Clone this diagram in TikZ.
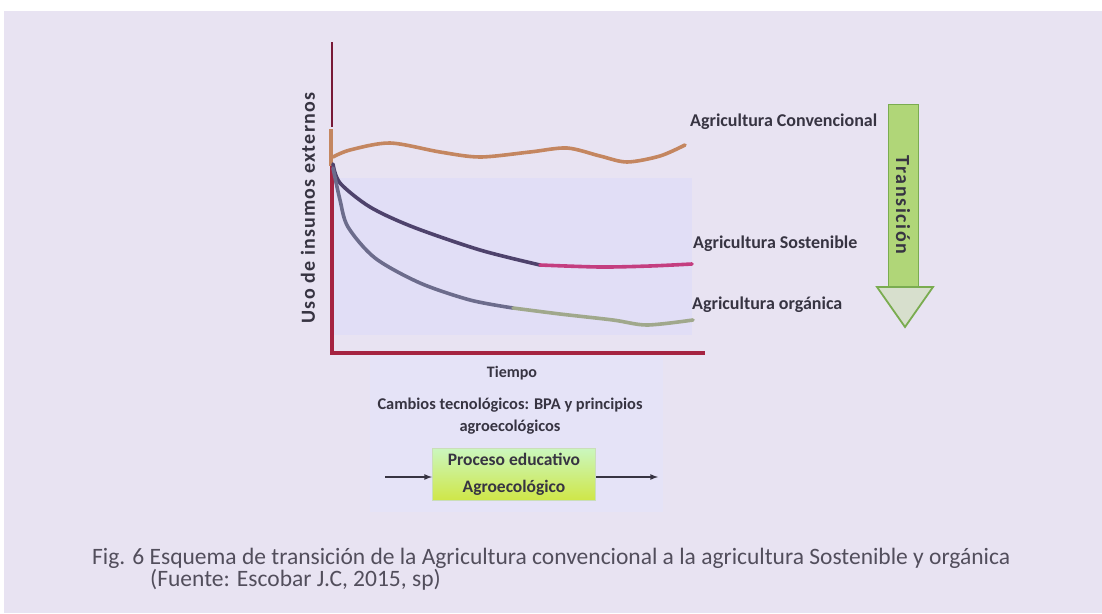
\documentclass[tikz,border=0pt]{standalone}
\usepackage{fontspec}
\setmainfont{Carlito}
\usepackage{xcolor}
\usetikzlibrary{arrows,positioning}

\definecolor{fondpage}{RGB}{232,227,242}
\definecolor{fondgraph}{RGB}{225,222,246}
\definecolor{fondbas}{RGB}{229,227,247}
\definecolor{axerouge}{RGB}{165,35,65}
\definecolor{axefonce}{RGB}{120,25,55}
\definecolor{convbrun}{RGB}{196,134,96}
\definecolor{sostfonce}{RGB}{78,66,108}
\definecolor{sostrose}{RGB}{196,62,128}
\definecolor{orggris}{RGB}{108,108,140}
\definecolor{orgvert}{RGB}{160,168,140}
\definecolor{flechevert}{RGB}{176,214,120}
\definecolor{bordvert}{RGB}{122,172,80}
\definecolor{txtgris}{RGB}{55,52,66}

\begin{document}
\begin{tikzpicture}[x=1pt,y=-1pt,
    etiq/.style={font=\bfseries\fontsize{18}{20}\selectfont, text=txtgris, inner sep=0pt},
    legende/.style={font=\fontsize{23.5}{26}\selectfont, text=txtgris!85!fondpage, inner sep=0pt, anchor=west},
    courbe/.style={line width=3.6pt, line cap=round},
    axe/.style={draw=axerouge, line width=4pt}]
  \useasboundingbox (0,0) rectangle (1102,613);

  % Fond de la page
  \fill[white] (0,0) rectangle (1102,613);
  \fill[fondpage] (4,11) rectangle (1102,613);
  \fill[fondgraph] (334,178) rectangle (692,335);
  \fill[fondbas] (370,356) rectangle (663,512);

  % Axes
  \coordinate (hautY) at (332,42);
  \coordinate (coudeY) at (332,127);
  \coordinate (origine) at (332,353);
  \coordinate (finX) at (705,353);
  \draw[axefonce, line width=2pt] (hautY) -- (coudeY);
  \draw[axe] (332,166) -- (origine) -- (finX);
  \draw[convbrun, line width=4.5pt] (331,129) -- (331,166);
  \node[etiq, rotate=90, font=\bfseries\fontsize{20}{22}\selectfont\addfontfeature{LetterSpace=6}] (lblUso) at (308,208) {Uso de insumos externos};

  % Courbes
  \draw[courbe, convbrun] plot[smooth] coordinates {(333,157) (350,150) (390,143) (440,152) (480,157) (530,152) (567,148) (600,156) (627,162) (660,156) (685,145)};
  \draw[courbe, sostfonce] plot[smooth] coordinates {(333,164) (340,183) (370,207) (413,227) (480,250) (540,265)};
  \draw[courbe, sostrose] plot[smooth] coordinates {(540,265) (600,267) (650,266) (692,264)};
  \draw[courbe, orggris] plot[smooth] coordinates {(333,168) (340,200) (348,227) (375,258) (420,283) (470,300) (513,308)};
  \draw[courbe, orgvert] plot[smooth] coordinates {(513,308) (560,314) (613,320) (647,325) (693,320)};

  % Etiquettes des courbes
  \node[etiq, anchor=west] (lblConv) at (690,122) {Agricultura Convencional};
  \node[etiq, anchor=west] (lblSost) at (693,244) {Agricultura Sostenible};
  \node[etiq, anchor=west] (lblOrg) at (692,305) {Agricultura orgánica};

  % Fleche de transition
  \fill[flechevert, draw=bordvert, line width=1pt] (888,104) rectangle (918,287);
  \filldraw[fill=fondpage!70!flechevert, draw=bordvert, line width=1.8pt] (877,287) -- (933,287) -- (905,327) -- cycle;
  \node[etiq, rotate=-90, font=\bfseries\fontsize{20}{22}\selectfont\addfontfeature{LetterSpace=8}] (lblTrans) at (903,205) {Transición};

  % Sous l'axe
  \node[etiq, font=\bfseries\fontsize{16}{18}\selectfont] (lblTiempo) at (512,373) {Tiempo};
  \node[etiq, align=center, font=\bfseries\fontsize{16.4}{22}\selectfont] (lblCambios) at (510,416) {Cambios tecnológicos: BPA y principios\\agroecológicos};
  \node[etiq, draw=white!60!bordvert, line width=1pt, top color=green!18!white!80!flechevert, bottom color=yellow!40!flechevert,
        minimum width=163pt, minimum height=52pt, align=center, font=\bfseries\fontsize{17.5}{27}\selectfont] (boxProceso) at (514,474) {Proceso educativo\\Agroecológico};
  \coordinate (entree) at (385,477);
  \coordinate (sortie) at (658,477);
  \draw[-latex, line width=1.6pt, txtgris] (entree) -- (entree -| boxProceso.west);
  \draw[-latex, line width=1.6pt, txtgris] (sortie -| boxProceso.east) -- (sortie);

  % Legende
  \node[legende] (caption) at (92,558) {Fig. 6 Esquema de transición de la Agricultura convencional a la agricultura Sostenible y orgánica};
  \node[legende] (source) at (150,580) {(Fuente: Escobar J.C, 2015, sp)};
\end{tikzpicture}
\end{document}
